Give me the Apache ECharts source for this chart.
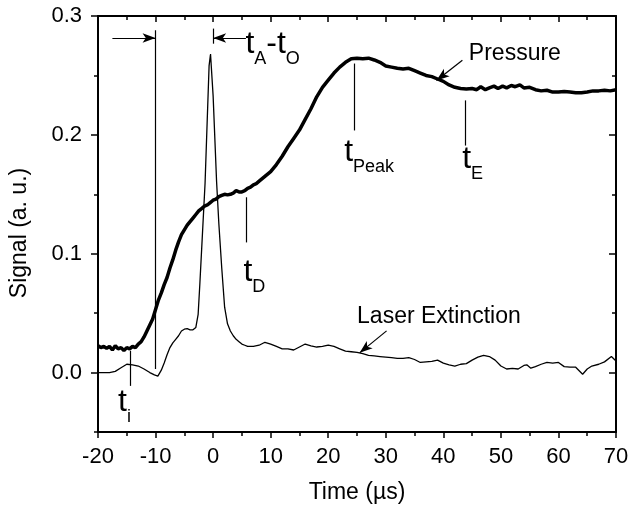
<!DOCTYPE html>
<html>
<head>
<meta charset="utf-8">
<script src="https://cdn.jsdelivr.net/npm/echarts@6/dist/echarts.min.js"></script>
<style>
  html, body { margin: 0; padding: 0; background: #fff; }
  #main { width: 633px; height: 510px; }
</style>
</head>
<body>
<div id="main"></div>
<script>
// time axis (microseconds) and signal values
var pressureT = [-20, -19.5, -19, -18.5, -18, -17.5, -17, -16.5, -16, -15.5, -15, -14.5, -14, -13.5, -13, -12.5, -12, -11.5, -11, -10.5,
  -10, -9.5, -9, -8.5, -8, -7.5, -7, -6.5, -6, -5.5, -5, -4.5, -4, -3.5, -3, -2.5, -2, -1.5, -1, -0.5,
  0, 0.5, 1, 1.5, 2, 2.5, 3, 3.5, 4, 4.5, 5, 5.5, 6, 6.5, 7, 7.5, 8, 9, 10, 11,
  12, 13, 14, 15, 16, 17, 18, 19, 20, 21, 22, 23, 24, 25, 26, 27, 28, 29, 30, 31,
  32, 33, 34, 35, 36, 37, 38, 39, 40, 41, 42, 43, 44, 45, 45.8, 46.5, 47.3, 48, 48.8, 49.5,
  50.3, 51, 51.8, 52.5, 53.3, 54, 55, 56, 57, 58, 59, 60, 61, 62, 63, 64, 65, 66, 67, 68, 69, 70];
var pressureV = [0.0225, 0.021, 0.022, 0.0205, 0.022, 0.019, 0.0225, 0.020, 0.021, 0.0185, 0.021, 0.020, 0.022, 0.021, 0.024, 0.026, 0.030, 0.035, 0.040, 0.045,
  0.053, 0.061, 0.067, 0.074, 0.080, 0.088, 0.095, 0.103, 0.110, 0.116, 0.120, 0.124, 0.127, 0.130, 0.133, 0.136, 0.138, 0.140, 0.141, 0.143,
  0.145, 0.146, 0.148, 0.149, 0.150, 0.1495, 0.150, 0.151, 0.153, 0.152, 0.152, 0.153, 0.155, 0.156, 0.158, 0.159, 0.161, 0.165, 0.169, 0.175,
  0.182, 0.190, 0.197, 0.204, 0.213, 0.222, 0.232, 0.240, 0.246, 0.252, 0.257, 0.261, 0.264, 0.2645, 0.264, 0.2645, 0.263, 0.261, 0.258, 0.257,
  0.256, 0.2555, 0.256, 0.254, 0.252, 0.250, 0.249, 0.247, 0.245, 0.242, 0.240, 0.239, 0.2385, 0.239, 0.238, 0.2405, 0.238, 0.2395, 0.241, 0.239,
  0.241, 0.2395, 0.2415, 0.2405, 0.242, 0.2395, 0.240, 0.238, 0.237, 0.2375, 0.236, 0.236, 0.2365, 0.236, 0.2355, 0.2355, 0.236, 0.237, 0.237, 0.2375, 0.237, 0.238];

var laserT = [-20, -19, -18, -17, -16, -15, -14, -13, -12, -11, -10.2, -9.6, -9, -8.5, -8, -7.5, -7, -6.5, -6, -5.5,
  -5, -4.5, -4, -3.5, -3, -2.6, -2.3, -2.0, -1.4, -0.7, -0.45, 0, 0.6, 1.0, 1.5, 2.0, 2.5, 3, 3.5, 4,
  4.5, 5, 5.5, 6, 7, 8, 9, 10, 11, 12, 13, 14, 15, 16, 17, 18, 19, 20, 21, 22,
  23, 24, 25, 26, 27, 28, 29, 30, 31, 32, 33, 34, 35, 36, 37, 38, 39, 40, 41, 42,
  43, 44, 45, 46, 47, 48, 49, 50, 51, 52, 53, 54, 54.5, 55.2, 56, 57, 58, 59, 60, 61,
  62, 63, 64.2, 65, 65.8, 67, 68, 69.2, 70];
var laserV = [0.0, 0.0, 0.0, 0.001, 0.004, 0.007, 0.0065, 0.0055, 0.003, 0.0, -0.002, -0.003, 0.002, 0.008, 0.015, 0.021, 0.025, 0.028, 0.031, 0.035,
  0.0365, 0.037, 0.036, 0.036, 0.038, 0.049, 0.075, 0.103, 0.159, 0.258, 0.268, 0.233, 0.161, 0.125, 0.088, 0.055, 0.041, 0.035, 0.031, 0.028,
  0.026, 0.024, 0.023, 0.022, 0.022, 0.023, 0.0255, 0.024, 0.022, 0.020, 0.020, 0.019, 0.0215, 0.024, 0.0225, 0.0215, 0.022, 0.023, 0.022, 0.020,
  0.018, 0.0175, 0.017, 0.016, 0.0145, 0.014, 0.0135, 0.013, 0.0125, 0.012, 0.012, 0.0125, 0.011, 0.0085, 0.009, 0.0095, 0.0105, 0.008, 0.0065, 0.0055,
  0.007, 0.0075, 0.0105, 0.013, 0.0145, 0.0135, 0.0105, 0.0055, 0.003, 0.0035, 0.003, 0.006, 0.0065, 0.0037, 0.005, 0.007, 0.0085, 0.008, 0.0085, 0.005,
  0.0045, 0.0045, -0.0014, 0.003, 0.0055, 0.007, 0.009, 0.0135, 0.0098];

var yMajorTicks = [0, 0.1, 0.2, 0.3];
var yMinorTicks = [-0.05, 0.05, 0.15, 0.25];

var FONT = '"Liberation Sans", Arial, sans-serif';

function pairs(xs, ys) {
  var out = [];
  for (var i = 0; i < xs.length; i++) out.push([xs[i], ys[i]]);
  return out;
}

// plain marker line between two data points
function seg(x1, y1, x2, y2) {
  return [{ coord: [x1, y1], symbol: 'none' }, { coord: [x2, y2], symbol: 'none' }];
}
// line with an arrow head at the second point
function arrow(x1, y1, x2, y2) {
  return [{ coord: [x1, y1], symbol: 'none' }, { coord: [x2, y2], symbol: 'arrow', symbolSize: [7, 13] }];
}

var richT = {
  t: { fontSize: 32, lineHeight: 32, verticalAlign: 'top', fontFamily: FONT, color: '#000' },
  s: { fontSize: 18, lineHeight: 18, padding: [22, 0, 0, 0], verticalAlign: 'top', fontFamily: FONT, color: '#000' }
};

function tag(x, y, text) {
  return {
    coord: [x, y],
    label: { show: true, position: [0, 0], align: 'left', verticalAlign: 'top', formatter: text, rich: richT }
  };
}
function note(x, y, text) {
  return {
    coord: [x, y],
    label: { show: true, position: [0, 0], align: 'left', verticalAlign: 'middle', formatter: text,
      fontSize: 23, fontFamily: FONT, color: '#000' }
  };
}

var axisLine = { show: true, onZero: false, lineStyle: { color: '#000', width: 2 } };
var tickStyle = { color: '#000', width: 1.5 };

var chart = echarts.init(document.getElementById('main'));
chart.setOption({
  animation: false,
  backgroundColor: '#fff',
  grid: { left: 98, right: 17, top: 16, bottom: 78 },
  xAxis: [{
    type: 'value', position: 'bottom', min: -20, max: 70, interval: 10,
    axisLine: axisLine,
    axisTick: { show: true, inside: false, length: 6, lineStyle: tickStyle },
    minorTick: { show: true, splitNumber: 2, length: 4, lineStyle: tickStyle },
    splitLine: { show: false },
    axisLabel: { margin: 14, fontSize: 22, fontFamily: FONT, color: '#000' },
    name: 'Time (\u00b5s)', nameLocation: 'middle', nameGap: 49,
    nameTextStyle: { fontSize: 23, fontFamily: FONT, color: '#000' }
  }, {
    type: 'value', position: 'top', min: -20, max: 70, interval: 10,
    axisLine: axisLine,
    axisTick: { show: true, inside: true, length: 6, lineStyle: tickStyle },
    minorTick: { show: true, splitNumber: 2, length: 4, lineStyle: tickStyle },
    splitLine: { show: false },
    axisLabel: { show: false }
  }],
  yAxis: [{
    type: 'value', position: 'left', min: -0.05, max: 0.3,
    axisLine: axisLine,
    axisTick: { show: true, inside: false, length: 7, customValues: yMajorTicks, lineStyle: tickStyle },
    splitLine: { show: false },
    axisLabel: { customValues: yMajorTicks, margin: 16, fontSize: 22, fontFamily: FONT, color: '#000',
      formatter: function (v) { return v.toFixed(1); } },
    name: 'Signal (a. u.)', nameLocation: 'middle', nameGap: 67,
    nameTextStyle: { fontSize: 23, fontFamily: FONT, color: '#000', padding: [0, 18, 0, 0] }
  }, {
    type: 'value', position: 'left', min: -0.05, max: 0.3,
    axisLine: { show: false, onZero: false },
    axisTick: { show: true, inside: false, length: 4, customValues: yMinorTicks, lineStyle: tickStyle },
    splitLine: { show: false },
    axisLabel: { show: false }
  }, {
    type: 'value', position: 'right', min: -0.05, max: 0.3,
    axisLine: axisLine,
    axisTick: { show: true, inside: true, length: 7, customValues: yMajorTicks, lineStyle: tickStyle },
    splitLine: { show: false },
    axisLabel: { show: false }
  }, {
    type: 'value', position: 'right', min: -0.05, max: 0.3,
    axisLine: { show: false, onZero: false },
    axisTick: { show: true, inside: true, length: 4, customValues: yMinorTicks, lineStyle: tickStyle },
    splitLine: { show: false },
    axisLabel: { show: false }
  }],
  series: [{
    name: 'Laser Extinction', type: 'line', xAxisIndex: 0, yAxisIndex: 0,
    data: pairs(laserT, laserV), showSymbol: false, smooth: false,
    lineStyle: { color: '#000', width: 1.3 },
    markLine: {
      silent: true, animation: false,
      label: { show: false },
      lineStyle: { color: '#000', width: 1.2, type: 'solid' },
      data: [
        seg(-10, 0.288, -10, 0.003),
        seg(0, 0.2894, 0, 0.2767),
        seg(-14.4, 0.0183, -14.4, -0.0112),
        seg(5.82, 0.1475, 5.82, 0.1095),
        seg(24.6, 0.260, 24.6, 0.2037),
        seg(43.83, 0.229, 43.83, 0.191),
        arrow(-17.5, 0.2815, -10, 0.2815),
        arrow(5.7, 0.2815, 0, 0.2815),
        arrow(43.31, 0.2627, 38.81, 0.2458),
        arrow(30.14, 0.0351, 25.46, 0.0166)
      ]
    },
    markPoint: {
      silent: true, animation: false,
      symbol: 'circle', symbolSize: 1, itemStyle: { color: 'rgba(0,0,0,0)' },
      data: [
        tag(5.7, 0.2896, '{t|t}{s|A}{t|-t}{s|O}'),
        tag(22.86, 0.1986, '{t|t}{s|Peak}'),
        tag(43.36, 0.193, '{t|t}{s|E}'),
        tag(5.36, 0.0975, '{t|t}{s|D}'),
        tag(-16.43, -0.012, '{t|t}{s|i}'),
        note(44.52, 0.2677, 'Pressure'),
        note(25.1, 0.0469, 'Laser Extinction')
      ]
    }
  }, {
    name: 'Pressure', type: 'line', xAxisIndex: 0, yAxisIndex: 0,
    data: pairs(pressureT, pressureV), showSymbol: false, smooth: false,
    lineStyle: { color: '#000', width: 3.5 }
  }]
});
</script>
</body>
</html>
